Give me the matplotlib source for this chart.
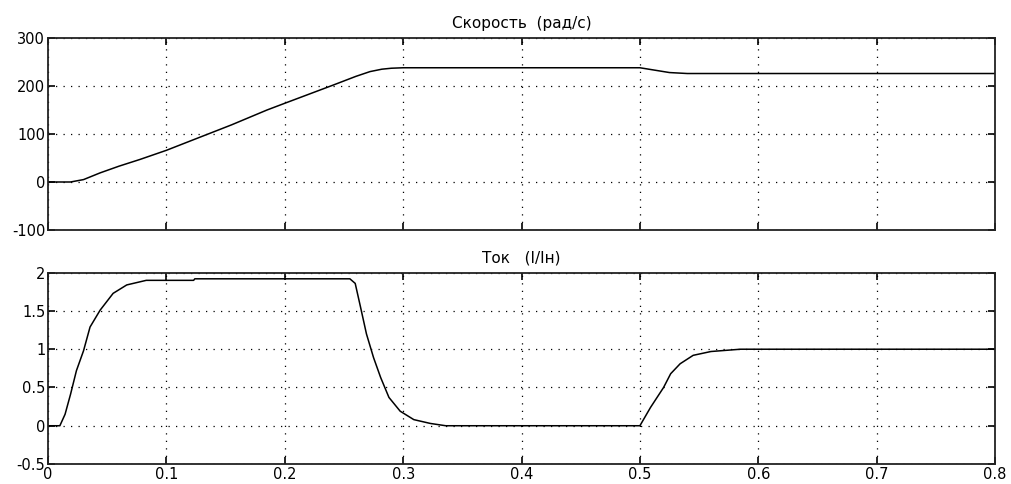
import numpy as np
import matplotlib
matplotlib.use('Agg')
import matplotlib.pyplot as plt

# Скорость (рад/с)
t_speed = [0.0, 0.019, 0.03, 0.044, 0.06, 0.0777, 0.1, 0.128, 0.155, 0.185, 0.2,
           0.241, 0.26, 0.272, 0.282, 0.29, 0.3, 0.4, 0.5, 0.51, 0.525, 0.54, 0.6, 0.8]
speed = [0, 0, 5, 19, 33, 47, 66, 93, 119, 150, 164,
         202, 220, 230, 235, 237, 238, 238, 238, 234, 228, 226, 226, 226]

# Ток (I/Iн)
t_current = [0.0, 0.01, 0.0144, 0.019, 0.024, 0.030, 0.0355, 0.044, 0.055, 0.0665,
             0.083, 0.123, 0.124, 0.255, 0.2595, 0.264, 0.269, 0.275, 0.281, 0.288,
             0.2975, 0.309, 0.323, 0.336, 0.5, 0.509, 0.520, 0.526, 0.534, 0.545,
             0.560, 0.585, 0.8]
current = [0, 0, 0.15, 0.41, 0.72, 0.98, 1.29, 1.51, 1.73, 1.84,
           1.90, 1.90, 1.92, 1.92, 1.86, 1.55, 1.20, 0.89, 0.63, 0.37,
           0.19, 0.08, 0.03, 0.0, 0.0, 0.24, 0.5, 0.68, 0.81, 0.92,
           0.97, 1.0, 1.0]

x_ticks = [0, 0.1, 0.2, 0.3, 0.4, 0.5, 0.6, 0.7, 0.8]
x_labels = ['0', '0.1', '0.2', '0.3', '0.4', '0.5', '0.6', '0.7', '0.8']
speed_ticks = [-100, 0, 100, 200, 300]
current_ticks = [-0.5, 0, 0.5, 1, 1.5, 2]
current_labels = ['-0.5', '0', '0.5', '1', '1.5', '2']

plt.rcParams['font.family'] = ['DejaVu Sans']
plt.rcParams['axes.unicode_minus'] = False

fig = plt.figure(figsize=(10.11, 4.84), dpi=100)
ax1 = fig.add_axes([0.0475, 0.5248, 0.9367, 0.3967])
ax2 = fig.add_axes([0.0475, 0.0413, 0.9367, 0.3953])


def style(ax, title):
    ax.set_xlim(0, 0.8)
    ax.grid(True, color='black', linestyle=(0, (1, 5)), linewidth=0.9)
    ax.tick_params(direction='in', length=5, width=1.2, top=True, right=True,
                   labelsize=10.5, pad=2, colors='black')
    for s in ax.spines.values():
        s.set_linewidth(1.3)
        s.set_color('#222222')
    ax.set_title(title, fontsize=11, pad=7)


ax1.plot(t_speed, speed, color='black', linewidth=1.1)
ax1.set_ylim(-100, 300)
ax1.set_yticks(speed_ticks)
ax1.set_yticklabels([str(v) for v in speed_ticks])
ax1.set_xticks(x_ticks)
ax1.set_xticklabels([])
style(ax1, 'Скорость  (рад/с)')

ax2.plot(t_current, current, color='black', linewidth=1.1)
ax2.set_ylim(-0.5, 2)
ax2.set_yticks(current_ticks)
ax2.set_yticklabels(current_labels)
ax2.set_xticks(x_ticks)
ax2.set_xticklabels(x_labels)
style(ax2, 'Ток   (I/Iн)')

plt.savefig('out.png', dpi=100)
